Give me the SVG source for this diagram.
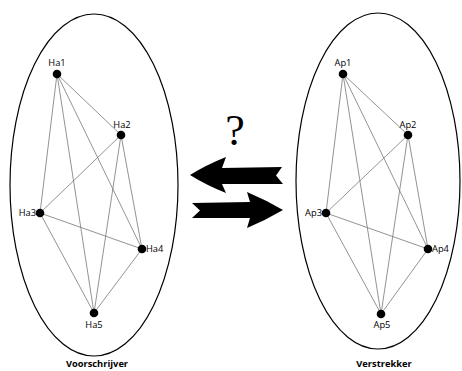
<svg xmlns="http://www.w3.org/2000/svg" width="462" height="371" viewBox="0 0 462 371">
<style>
.ell{fill:none;stroke:#000;stroke-width:1.2}
.edge{stroke:#777;stroke-width:0.8;fill:none}
.dot{fill:#000}
.lbl{font-family:"Open Sans","DejaVu Sans",sans-serif;font-size:9.3px;fill:#000}
.title{font-family:"Open Sans","DejaVu Sans",sans-serif;font-size:9.3px;font-weight:bold;fill:#000}
.arr{fill:#000}
</style>
<rect width="462" height="371" fill="#fff"/>
<g id="voorschrijver">
<ellipse class="ell" cx="94" cy="185" rx="84" ry="171"/>
<text class="title" x="97" y="367" text-anchor="middle">Voorschrijver</text>
</g>
<g id="verstrekker">
<ellipse class="ell" cx="378" cy="181" rx="82" ry="168"/>
<text class="title" x="384" y="367" text-anchor="middle">Verstrekker</text>
</g>
<g id="connectors">
<g id="left-edges">
<line class="edge" x1="57" y1="74" x2="121" y2="135"/>
<line class="edge" x1="57" y1="74" x2="40" y2="213"/>
<line class="edge" x1="57" y1="74" x2="142" y2="249"/>
<line class="edge" x1="57" y1="74" x2="94" y2="313"/>
<line class="edge" x1="121" y1="135" x2="40" y2="213"/>
<line class="edge" x1="121" y1="135" x2="142" y2="249"/>
<line class="edge" x1="121" y1="135" x2="94" y2="313"/>
<line class="edge" x1="40" y1="213" x2="142" y2="249"/>
<line class="edge" x1="40" y1="213" x2="94" y2="313"/>
<line class="edge" x1="142" y1="249" x2="94" y2="313"/>
</g>
<g id="right-edges">
<line class="edge" x1="343" y1="74" x2="408" y2="135"/>
<line class="edge" x1="343" y1="74" x2="326" y2="213"/>
<line class="edge" x1="343" y1="74" x2="428" y2="249"/>
<line class="edge" x1="343" y1="74" x2="381" y2="314"/>
<line class="edge" x1="408" y1="135" x2="326" y2="213"/>
<line class="edge" x1="408" y1="135" x2="428" y2="249"/>
<line class="edge" x1="408" y1="135" x2="381" y2="314"/>
<line class="edge" x1="326" y1="213" x2="428" y2="249"/>
<line class="edge" x1="326" y1="213" x2="381" y2="314"/>
<line class="edge" x1="428" y1="249" x2="381" y2="314"/>
</g>
<g id="arrows">
<path id="arrow-left" class="arr" d="M190,175 Q206,165 226,157 L222,168 L282,167 L276,175.5 L283,184 L222,184 L226,193 Q206,185 190,175 Z"/>
<path id="arrow-right" class="arr" d="M283,210 Q266,200 247,192 L250,202 L192,203 L200,210.5 L192,218 L250,218 L247,228 Q266,220 283,210 Z"/>
</g>
</g>
<g id="question">
<text x="235" y="145" text-anchor="middle" font-family="Liberation Serif, serif" font-size="44">?</text>
</g>
<g id="Ha1"><circle class="dot" cx="57" cy="74" r="4.3"/><text class="lbl" x="57" y="66" text-anchor="middle">Ha1</text></g>
<g id="Ha2"><circle class="dot" cx="121" cy="135" r="4.3"/><text class="lbl" x="122" y="128" text-anchor="middle">Ha2</text></g>
<g id="Ha3"><circle class="dot" cx="40" cy="213" r="4.3"/><text class="lbl" x="36" y="216" text-anchor="end">Ha3</text></g>
<g id="Ha4"><circle class="dot" cx="142" cy="249" r="4.3"/><text class="lbl" x="146" y="252">Ha4</text></g>
<g id="Ha5"><circle class="dot" cx="94" cy="313" r="4.3"/><text class="lbl" x="94" y="328" text-anchor="middle">Ha5</text></g>
<g id="Ap1"><circle class="dot" cx="343" cy="74" r="4.3"/><text class="lbl" x="343" y="66" text-anchor="middle">Ap1</text></g>
<g id="Ap2"><circle class="dot" cx="408" cy="135" r="4.3"/><text class="lbl" x="408" y="128" text-anchor="middle">Ap2</text></g>
<g id="Ap3"><circle class="dot" cx="326" cy="213" r="4.3"/><text class="lbl" x="322" y="216" text-anchor="end">Ap3</text></g>
<g id="Ap4"><circle class="dot" cx="428" cy="249" r="4.3"/><text class="lbl" x="432" y="252">Ap4</text></g>
<g id="Ap5"><circle class="dot" cx="381" cy="314" r="4.3"/><text class="lbl" x="382" y="328" text-anchor="middle">Ap5</text></g>
</svg>
